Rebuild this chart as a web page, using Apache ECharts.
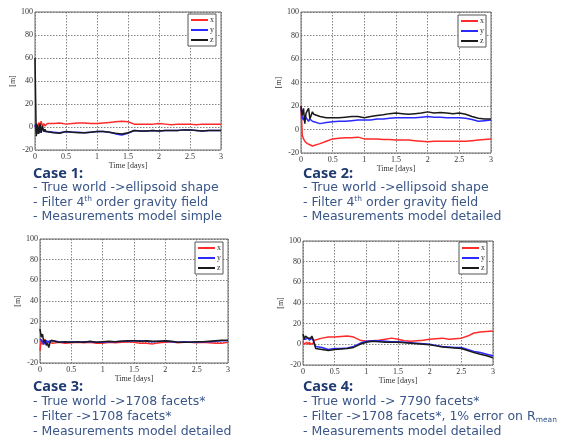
<!DOCTYPE html>
<html>
<head>
<meta charset="utf-8">
<script src="https://cdn.jsdelivr.net/npm/echarts@6/dist/echarts.min.js"></script>
<style>html,body{margin:0;padding:0;background:#fff;}#c{width:565px;height:441px;}</style>
</head>
<body>
<div id="c"></div>
<script>
// Shared time samples [days]
var timeDays = [0, 0.02, 0.04, 0.06, 0.08, 0.1, 0.12, 0.14, 0.16, 0.18, 0.2, 0.3, 0.4, 0.5, 0.6, 0.7, 0.8, 0.9, 1.0, 1.1, 1.2, 1.3, 1.4, 1.5, 1.6, 1.7, 1.8, 1.9, 2.0, 2.1, 2.2, 2.3, 2.4, 2.5, 2.6, 2.7, 2.8, 2.9, 3.0];
var seriesNames = ['x', 'y', 'z'];
var xTicks = [0, 0.5, 1, 1.5, 2, 2.5, 3];
var yTicks = [-20, 0, 20, 40, 60, 80, 100];

// Case 1
var case1X = [0, 3, -1, 4, 1, 5, 0, 3, 1, 2, 3, 3, 3.5, 2.5, 3, 3.5, 3.5, 3, 3, 3.5, 4, 4.5, 5, 4.5, 2.5, 2.5, 2.5, 2.5, 3, 2.5, 2, 2.5, 2.5, 2.5, 2, 2.5, 2.5, 2.5, 2.5];
var case1Y = [2, -4, -6, 0, -5, -2, -3, -2, -4, -3, -4, -4.5, -5, -4, -4.5, -4.5, -5, -4.5, -4, -4, -4.5, -6, -7, -5.5, -3, -3.5, -3.5, -3, -3.5, -3, -3, -3, -2.5, -2.5, -3, -3.5, -3, -3, -3];
var case1Z = [60, -8, 2, -6, 3, -5, 1, -4, -2, -4, -5, -5, -5.5, -4, -4.5, -5, -5, -4.5, -4, -4, -4.5, -5.5, -6, -5, -3, -3.5, -3.5, -3, -3.5, -3, -3, -3, -2.5, -2.5, -3, -3.5, -3, -3, -3];
// Case 2
var case2X = [20, -5, -8, -10, -11, -12, -11, -13, -12, -14, -13, -12, -10, -8, -7.5, -7, -7, -6.5, -8, -8, -8, -8.5, -8.5, -9, -9, -9, -9.5, -10, -10.5, -10, -10, -10, -10, -10, -10, -9.5, -9, -8.5, -8];
var case2Y = [18, 10, 8, 12, 10, 9, 7, 9, 8, 7, 8, 5, 6, 6.5, 7, 7, 7.5, 8, 8, 8, 9, 9, 9.5, 10, 10, 10, 10, 10.5, 11, 10.5, 10.5, 10, 10, 10, 9.5, 8.5, 7, 7.5, 8];
var case2Z = [20, 12, 18, 5, 14, 16, 18, 9, 12, 15, 13, 11, 10, 10, 10, 10.5, 11, 11, 10, 11, 12, 12.5, 13.5, 14, 13.5, 13, 13.5, 14, 15, 14, 14.5, 14, 13.5, 14, 13, 11, 9.5, 9, 9];
// Case 3
var case3X = [-8, 3, -2, 1, 3, -1, 1, 2, 0, -1, -1, 0, -1, -0.5, 0, -0.5, 0, -1, -1, 0, -0.5, 0, 0.5, 0, -1, -1, -1.5, -0.5, 0, 0.5, -0.5, 0, 0, -0.5, 0, -0.5, -1, -1, 0];
var case3Y = [3, 2, 1, -2, 0, 2, -1, 1, 2, 1.5, 1, 0.5, 0, 0.5, 0, 0.5, 0.5, 0, 0, 0.5, 0.5, 1, 1, 1.5, 1.5, 1, 0.5, 1, 1, 0.5, 0, 0.5, 0, 0, 0.5, 0.5, 1, 1.5, 1.5];
var case3Z = [13, 5, 8, 0, 2, -3, -1, -5, 0, 2, 1, 0, 0.5, 0, 0.5, 0, 1, 0, 0.5, 1, 0.5, 1, 1.5, 1.5, 1, 1.5, 1, 1, 1.5, 1, 0, 0, 0, 0.5, 0.5, 1, 1.5, 2, 2];
// Case 4
var case4X = [3, 0, 1, 2, 0, 2, 0, -1, 1, 4, 5, 6, 7, 7, 7.5, 8, 7, 4, 3, 3.5, 4, 5, 6, 5, 3.5, 3, 3.5, 4, 5, 5.5, 6, 5, 5.5, 6, 8, 11, 12, 12.5, 13];
var case4Y = [5, 4, 5, 5, 6, 4, 5, 6, 4, 5, -2, -3, -5, -4, -4, -3.5, -2, 1, 3, 3.5, 3.5, 3, 2.5, 2.5, 2, 1.5, 1, 0.5, 0, -1, -2, -2.5, -3, -3, -5, -7, -8, -9.5, -11];
var case4Z = [10, 5, 8, 7, 6, 7, 6, 8, 5, 0, -4, -5, -6, -5, -4.5, -4, -3, 0, 2, 3, 2.5, 2, 2, 2, 1.5, 1, 0.5, 0, -0.5, -1.5, -2.5, -3, -3.5, -4, -6, -8, -9.5, -11, -13];

var caseData = [
  [case1X, case1Y, case1Z],
  [case2X, case2Y, case2Z],
  [case3X, case3Y, case3Z],
  [case4X, case4Y, case4Z]
];
var lineColors = ['#ff2a2a', '#2a2aff', '#1a1a1a'];

var grids = [
  {left: 35, top: 12, width: 186, height: 138},
  {left: 301, top: 12, width: 190, height: 141},
  {left: 40, top: 239, width: 188, height: 124},
  {left: 303, top: 241, width: 190, height: 124}
];
var legendPos = [
  {left: 188, top: 14},
  {left: 458, top: 15},
  {left: 195, top: 242},
  {left: 459, top: 242}
];

function zip(t, v) { return t.map(function (tt, i) { return [tt, v[i]]; }); }

var serif = 'Liberation Serif, DejaVu Serif, serif';
var option = {
  animation: false,
  backgroundColor: '#fff',
  grid: grids.map(function (g) {
    return Object.assign({show: true, borderColor: '#6a6a6a', borderWidth: 1, backgroundColor: '#fff', containLabel: false}, g);
  }),
  xAxis: grids.map(function (g, i) {
    return {
      gridIndex: i, type: 'value', min: xTicks[0], max: xTicks[xTicks.length - 1], interval: 0.5,
      name: 'Time [days]', nameLocation: 'middle', nameGap: 12,
      nameTextStyle: {fontFamily: serif, fontSize: 8, color: '#333'},
      axisLine: {show: false}, axisTick: {show: false},
      axisLabel: {fontFamily: serif, fontSize: 8, color: '#333', margin: 3},
      splitLine: {show: true, lineStyle: {type: [1.5, 1.5], color: '#666', width: 0.8}}
    };
  }),
  yAxis: grids.map(function (g, i) {
    return {
      gridIndex: i, type: 'value', min: yTicks[0], max: yTicks[yTicks.length - 1], interval: 20,
      name: '[m]', nameLocation: 'middle', nameGap: 18, nameRotate: 90,
      nameTextStyle: {fontFamily: serif, fontSize: 8, color: '#333'},
      axisLine: {show: false}, axisTick: {show: false},
      axisLabel: {fontFamily: serif, fontSize: 8, color: '#333', margin: 2},
      splitLine: {show: true, lineStyle: {type: [1.5, 1.5], color: '#666', width: 0.8}}
    };
  }),
  legend: legendPos.map(function (p) {
    return {
      data: seriesNames, left: p.left, top: p.top, orient: 'vertical',
      backgroundColor: '#fff', borderColor: '#555', borderWidth: 1,
      padding: [2, 2, 2, 3], itemGap: 2, itemWidth: 17, itemHeight: 2,
      icon: 'rect', selectedMode: false,
      textStyle: {fontFamily: serif, fontSize: 8, color: '#333', padding: [0, 0, 0, -3]}
    };
  }),
  series: [],
  graphic: []
};

caseData.forEach(function (cd, gi) {
  cd.forEach(function (vals, si) {
    option.series.push({
      type: 'line', name: seriesNames[si], xAxisIndex: gi, yAxisIndex: gi,
      data: zip(timeDays, vals), showSymbol: false, symbol: 'none',
      lineStyle: {color: lineColors[si], width: 1.5}, itemStyle: {color: lineColors[si]},
      z: 3 + si
    });
  });
});

var headColor = '#1f3a70';
var bodyColor = '#3a5688';
var rich = {
  h: {fontFamily: 'Noto Sans', fontSize: 14.5, fontWeight: 'bold', fill: headColor, color: headColor},
  b: {fontFamily: 'DejaVu Sans', fontSize: 12.5, fill: bodyColor, color: bodyColor},
  s: {fontFamily: 'DejaVu Sans', fontSize: 7.5, fill: bodyColor, color: bodyColor, verticalAlign: 'top'},
  u: {fontFamily: 'DejaVu Sans', fontSize: 7.5, fill: bodyColor, color: bodyColor, verticalAlign: 'bottom'}
};
var caseTexts = [
  {x: 33, y: 166, lh: 14.5, text: '{h|Case 1:}\n{b|- True world ->ellipsoid shape}\n{b|- Filter 4}{s|th}{b| order gravity field}\n{b|- Measurements model simple}'},
  {x: 303, y: 166, lh: 14.5, text: '{h|Case 2:}\n{b|- True world ->ellipsoid shape}\n{b|- Filter 4}{s|th}{b| order gravity field}\n{b|- Measurements model detailed}'},
  {x: 33, y: 379.5, lh: 15, text: '{h|Case 3:}\n{b|- True world ->1708 facets*}\n{b|- Filter ->1708 facets*}\n{b|- Measurements model detailed}'},
  {x: 303, y: 379.5, lh: 15, text: '{h|Case 4:}\n{b|- True world -> 7790 facets*}\n{b|- Filter ->1708 facets*, 1% error on R}{u|mean}\n{b|- Measurements model detailed}'}
];
caseTexts.forEach(function (c) {
  var r = {};
  Object.keys(rich).forEach(function (k) { r[k] = Object.assign({lineHeight: c.lh}, rich[k]); });
  option.graphic.push({
    type: 'text', left: c.x, top: c.y, z: 10,
    style: {text: c.text, rich: r, fill: bodyColor}
  });
});

var chart = echarts.init(document.getElementById('c'), null, {renderer: 'canvas'});
chart.setOption(option);
</script>
</body>
</html>
